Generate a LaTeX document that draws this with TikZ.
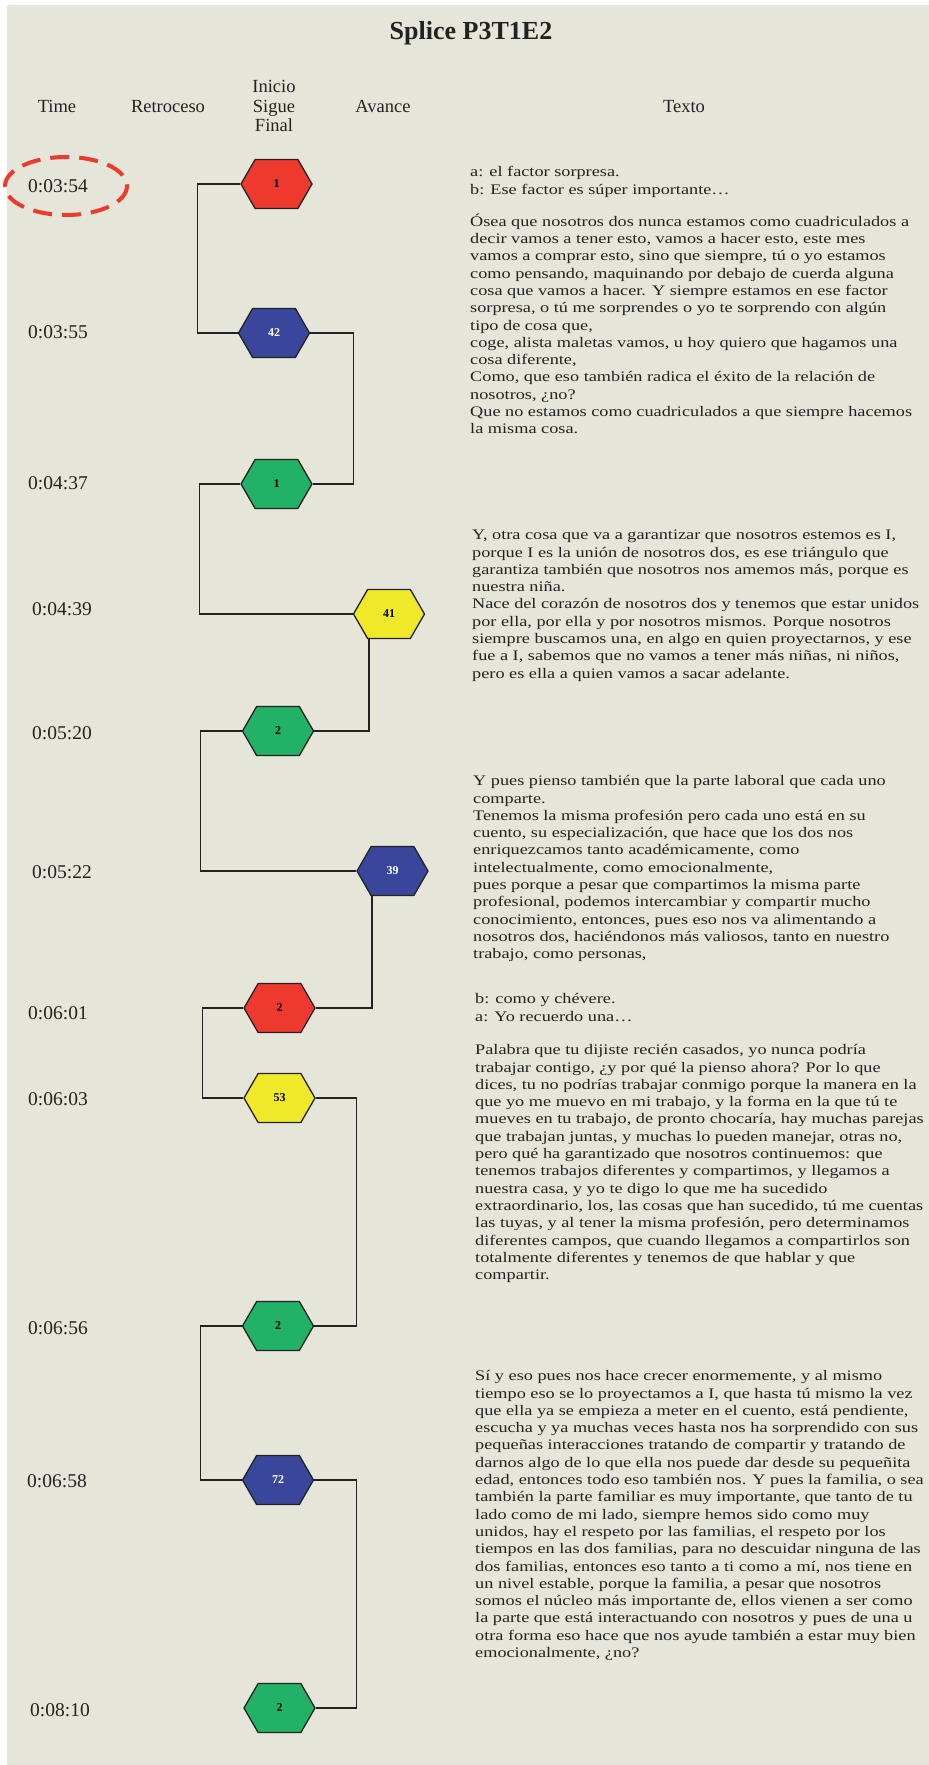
\documentclass[tikz,border=0pt]{standalone}
\usepackage{fontspec}
\setmainfont{Liberation Serif}
\newfontfamily\bodyfont[FakeStretch=1.25]{Liberation Serif}
\usetikzlibrary{shapes.symbols,calc}
\definecolor{bg}{HTML}{E5E5DA}
\definecolor{hred}{HTML}{EE3A2E}
\definecolor{hblue}{HTML}{3A469C}
\definecolor{hgreen}{HTML}{22B265}
\definecolor{hyellow}{HTML}{F0E92A}
\definecolor{ink}{HTML}{222222}
\tikzset{
  hexnode/.style={signal, signal to=west and east, signal pointer angle=120,
    minimum width=71pt, minimum height=49pt, inner sep=0pt, draw=ink,
    line width=1.3pt, font=\fontsize{12}{12}\selectfont\bfseries},
  hexred/.style={hexnode, fill=hred},
  hexblue/.style={hexnode, fill=hblue, text=white},
  hexgreen/.style={hexnode, fill=hgreen},
  hexyellow/.style={hexnode, fill=hyellow},
  conn/.style={draw=ink, line width=1.2pt},
  timelbl/.style={inner sep=0pt, text=ink, font=\fontsize{19.5}{19.5}\selectfont},
  head/.style={inner sep=0pt, text=ink, font=\fontsize{18.5}{19.5}\selectfont, anchor=base},
  txt/.style={inner sep=0pt, anchor=north west, align=left, text=ink,
    font=\bodyfont\fontsize{14.6}{17.3}\selectfont},
  markring/.style={draw=hred, line width=4pt, dash pattern=on 19pt off 10pt},
}
\newcommand{\fs}{\rule{0pt}{13pt}}
\begin{document}
\begin{tikzpicture}[x=1pt,y=-1pt]
\useasboundingbox (0,0) rectangle (929,1765);
\fill[white] (0,0) rectangle (929,1765);
\fill[bg] (7,5) rectangle (929,1765);

% highlight ellipse
\draw[markring] (66,186) ellipse [x radius=61, y radius=29];

% title and headers
\node[inner sep=0pt, anchor=base, text=ink, font=\fontsize{26}{26}\selectfont\bfseries] (title) at (471,39) {Splice P3T1E2};
\node[head] (hTime) at (57,112) {Time};
\node[head] (hRet) at (168,112) {Retroceso};
\node[inner sep=0pt, align=center, text=ink, font=\fontsize{18.5}{19.5}\selectfont] (hIni) at (274,106) {Inicio\\Sigue\\Final};
\node[head] (hAv) at (383,112) {Avance};
\node[head] (hTx) at (684,112) {Texto};

% time labels
\node[timelbl] (t1) at (58,186) {0:03:54};
\node[timelbl] (t2) at (58,332) {0:03:55};
\node[timelbl] (t3) at (58,483) {0:04:37};
\node[timelbl] (t4) at (62,609) {0:04:39};
\node[timelbl] (t5) at (62,733) {0:05:20};
\node[timelbl] (t6) at (62,872) {0:05:22};
\node[timelbl] (t7) at (58,1013) {0:06:01};
\node[timelbl] (t8) at (58,1099) {0:06:03};
\node[timelbl] (t9) at (58,1328) {0:06:56};
\node[timelbl] (t10) at (57,1481) {0:06:58};
\node[timelbl] (t11) at (60,1710) {0:08:10};

% hexagons
\node[hexred] (h1) at (276.5,184) {1};
\node[hexblue] (h42) at (274,333) {42};
\node[hexgreen] (g1) at (276.5,484) {1};
\node[hexyellow] (h41) at (389,614) {41};
\node[hexgreen] (g2) at (278,731) {2};
\node[hexblue] (h39) at (392.5,871) {39};
\node[hexred] (r2) at (279.5,1008) {2};
\node[hexyellow] (y53) at (279.5,1098) {53};
\node[hexgreen] (g3) at (278,1326) {2};
\node[hexblue] (b72) at (278,1480) {72};
\node[hexgreen] (g4) at (279.5,1708) {2};

% connectors
\draw[conn] (h1.west) -- ++(-43,0) |- (h42.west);
\draw[conn] (h42.east) -- ++(43,0) |- (g1.east);
\draw[conn] (g1.west) -- ++(-41,0) |- (h41.west);
\draw[conn] ($(h41.south)+(-20,0)$) |- (g2.east);
\draw[conn] (g2.west) -- ++(-41,0) |- (h39.west);
\draw[conn] ($(h39.south)+(-20.5,0)$) |- (r2.east);
\draw[conn] (r2.west) -- ++(-41,0) |- (y53.west);
\draw[conn] (y53.east) -- ++(41,0) |- (g3.east);
\draw[conn] (g3.west) -- ++(-41,0) |- (b72.west);
\draw[conn] (b72.east) -- ++(42,0) |- (g4.east);

% texts
\node[txt] (xa1) at (470,163.5) {\fs a: el factor sorpresa.\\
b: Ese factor es súper importante…};
\node[txt] (xa2) at (470,213) {\fs Ósea que nosotros dos nunca estamos como cuadriculados a\\
decir vamos a tener esto, vamos a hacer esto, este mes\\
vamos a comprar esto, sino que siempre, tú o yo estamos\\
como pensando, maquinando por debajo de cuerda alguna\\
cosa que vamos a hacer. Y siempre estamos en ese factor\\
sorpresa, o tú me sorprendes o yo te sorprendo con algún\\
tipo de cosa que,\\
coge, alista maletas vamos, u hoy quiero que hagamos una\\
cosa diferente,\\
Como, que eso también radica el éxito de la relación de\\
nosotros, ¿no?\\
Que no estamos como cuadriculados a que siempre hacemos\\
la misma cosa.};
\node[txt] (xb) at (472,526.5) {\fs Y, otra cosa que va a garantizar que nosotros estemos es I,\\
porque I es la unión de nosotros dos, es ese triángulo que\\
garantiza también que nosotros nos amemos más, porque es\\
nuestra niña.\\
Nace del corazón de nosotros dos y tenemos que estar unidos\\
por ella, por ella y por nosotros mismos. Porque nosotros\\
siempre buscamos una, en algo en quien proyectarnos, y ese\\
fue a I, sabemos que no vamos a tener más niñas, ni niños,\\
pero es ella a quien vamos a sacar adelante.};
\node[txt] (xc) at (473,772.5) {\fs Y pues pienso también que la parte laboral que cada uno\\
comparte.\\
Tenemos la misma profesión pero cada uno está en su\\
cuento, su especialización, que hace que los dos nos\\
enriquezcamos tanto académicamente, como\\
intelectualmente, como emocionalmente,\\
pues porque a pesar que compartimos la misma parte\\
profesional, podemos intercambiar y compartir mucho\\
conocimiento, entonces, pues eso nos va alimentando a\\
nosotros dos, haciéndonos más valiosos, tanto en nuestro\\
trabajo, como personas,};
\node[txt] (xd1) at (475,990.5) {\fs b: como y chévere.\\
a: Yo recuerdo una…};
\node[txt] (xd2) at (475,1041.5) {\fs Palabra que tu dijiste recién casados, yo nunca podría\\
trabajar contigo, ¿y por qué la pienso ahora? Por lo que\\
dices, tu no podrías trabajar conmigo porque la manera en la\\
que yo me muevo en mi trabajo, y la forma en la que tú te\\
mueves en tu trabajo, de pronto chocaría, hay muchas parejas\\
que trabajan juntas, y muchas lo pueden manejar, otras no,\\
pero qué ha garantizado que nosotros continuemos: que\\
tenemos trabajos diferentes y compartimos, y llegamos a\\
nuestra casa, y yo te digo lo que me ha sucedido\\
extraordinario, los, las cosas que han sucedido, tú me cuentas\\
las tuyas, y al tener la misma profesión, pero determinamos\\
diferentes campos, que cuando llegamos a compartirlos son\\
totalmente diferentes y tenemos de que hablar y que\\
compartir.};
\node[txt] (xe) at (475,1367.5) {\fs Sí y eso pues nos hace crecer enormemente, y al mismo\\
tiempo eso se lo proyectamos a I, que hasta tú mismo la vez\\
que ella ya se empieza a meter en el cuento, está pendiente,\\
escucha y ya muchas veces hasta nos ha sorprendido con sus\\
pequeñas interacciones tratando de compartir y tratando de\\
darnos algo de lo que ella nos puede dar desde su pequeñita\\
edad, entonces todo eso también nos. Y pues la familia, o sea\\
también la parte familiar es muy importante, que tanto de tu\\
lado como de mi lado, siempre hemos sido como muy\\
unidos, hay el respeto por las familias, el respeto por los\\
tiempos en las dos familias, para no descuidar ninguna de las\\
dos familias, entonces eso tanto a ti como a mí, nos tiene en\\
un nivel estable, porque la familia, a pesar que nosotros\\
somos el núcleo más importante de, ellos vienen a ser como\\
la parte que está interactuando con nosotros y pues de una u\\
otra forma eso hace que nos ayude también a estar muy bien\\
emocionalmente, ¿no?};
\end{tikzpicture}
\end{document}
